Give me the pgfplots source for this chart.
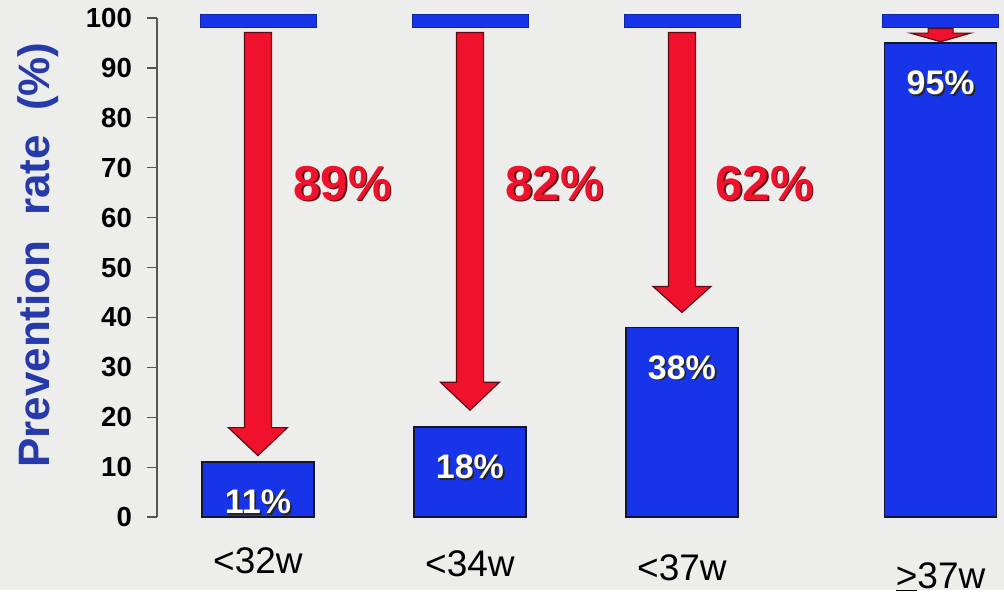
\documentclass[border=0pt]{standalone}
\usepackage{fontspec}
\setmainfont{Liberation Sans}
\usepackage{pgfplots}
\pgfplotsset{compat=1.18}
\usepackage{pgfplotstable}
\usetikzlibrary{calc,backgrounds}

\definecolor{bgcol}{RGB}{237,237,235}
\definecolor{barblue}{RGB}{24,52,232}
\definecolor{baredge}{RGB}{20,22,45}
\definecolor{arrowred}{RGB}{240,18,45}
\definecolor{arrowedge}{RGB}{95,10,20}
\definecolor{labelblue}{RGB}{38,58,172}
\definecolor{axisgray}{RGB}{85,85,85}

% prevention rate by gestational age at delivery
\pgfplotstableread{
x     rate
0     11
1     18
2     38
3.22  95
}\ratetable

% flat cap marking the 100 % level above each bar
\pgfdeclareplotmark{cap}{%
  \pgfpathrectangle{\pgfpoint{-29pt}{-3.25pt}}{\pgfpoint{58pt}{6.5pt}}%
  \pgfusepathqfillstroke}

% block arrow: x, top, tip, shaft half width, head half width, head length
\newcommand{\droparrow}[6]{%
  \filldraw[fill=arrowred, draw=arrowedge, line width=0.6pt]
    ($(axis cs:#1,#2)+(-#4,0pt)$) -- ($(axis cs:#1,#3)+(-#4,#6)$)
    -- ($(axis cs:#1,#3)+(-#5,#6)$) -- (axis cs:#1,#3)
    -- ($(axis cs:#1,#3)+(#5,#6)$) -- ($(axis cs:#1,#3)+(#4,#6)$)
    -- ($(axis cs:#1,#2)+(#4,0pt)$) -- cycle;}

\newcommand{\redlabel}[3]{%
  \node[text=arrowedge, font=\bfseries\fontsize{24.5}{26}\selectfont]
    at ($(axis cs:#1,#2)+(0.9pt,-0.9pt)$) {#3};
  \node[text=arrowred, font=\bfseries\fontsize{24.5}{26}\selectfont]
    at (axis cs:#1,#2) {#3};}

\begin{document}
\begin{tikzpicture}
\begin{axis}[
  name=ax,
  scale only axis,
  width=423.5pt, height=249.5pt,
  xmin=-0.476, xmax=3.519,
  ymin=0, ymax=100,
  clip=false,
  axis lines*=left,
  x axis line style={draw=none},
  y axis line style={draw=axisgray, line width=0.6pt},
  xtick={0,1,2,3.22},
  xticklabels={{\raisebox{3.5pt}{<32w}},{\raisebox{2pt}{<34w}},{<37w},{\raisebox{-4pt}{\underline{>}37w}}},
  xtick style={draw=none},
  xticklabel style={anchor=base, yshift=-26.5pt,
    font=\fontsize{18.5}{20}\selectfont},
  ytick={0,10,...,100},
  tick align=outside,
  major tick length=5pt,
  ytick style={draw=axisgray, line width=0.6pt},
  yticklabel style={font=\bfseries\fontsize{13.8}{15}\selectfont,
    xshift=-4pt},
  /pgf/number format/assume math mode=true,
  ylabel={Prevention\ \ rate\ \ (\%)},
  ylabel style={at={(axis description cs:-0.1405,0.525)}, anchor=center,
    text=labelblue, font=\bfseries\fontsize{22}{24}\selectfont},
]
% bars
\addplot[ybar, bar width=56pt, bar shift=0pt, fill=barblue,
  draw=baredge, line width=0.8pt] table[x=x, y=rate] {\ratetable};

% 100 % caps
\addplot[only marks, mark=cap, mark options={fill=barblue, draw=barblue!70!black, line width=0.4pt}]
  table[x=x, y expr=99.5] {\ratetable};

% value labels inside bars, with shadow
\addplot[draw=none, mark=none, nodes near coords={\pgfmathprintnumber{\pgfplotspointmeta}\%},
  every node near coord/.append style={anchor=center, yshift=-20.8pt, xshift=0.9pt,
    text=black!85, font=\bfseries\fontsize{17}{19}\selectfont}]
  table[x=x, y=rate] {\ratetable};
\addplot[draw=none, mark=none, nodes near coords={\pgfmathprintnumber{\pgfplotspointmeta}\%},
  every node near coord/.append style={anchor=center, yshift=-20pt,
    text=white, font=\bfseries\fontsize{17}{19}\selectfont}]
  table[x=x, y=rate] {\ratetable};

% drop arrows from the 100 % level down to each bar
\droparrow{0}{97.1}{12.3}{6.75pt}{14.75pt}{14pt}
\droparrow{1}{97.1}{21.4}{6.75pt}{14.75pt}{14pt}
\droparrow{2}{97.1}{41}{6.75pt}{14.5pt}{13pt}
\droparrow{3.22}{97.9}{95.25}{6.25pt}{15pt}{4.3pt}

% size of each drop
\redlabel{0.4}{66.9}{89\%}
\redlabel{1.4}{66.9}{82\%}
\redlabel{2.39}{66.9}{62\%}
\end{axis}
\begin{scope}[on background layer]
  \fill[bgcol] ($(ax.south west)+(-78.5pt,-36.5pt)$) rectangle ++(502pt,295pt);
\end{scope}
\path[use as bounding box] ($(ax.south west)+(-78.5pt,-36.5pt)$) rectangle ++(502pt,295pt);
\end{tikzpicture}
\end{document}
